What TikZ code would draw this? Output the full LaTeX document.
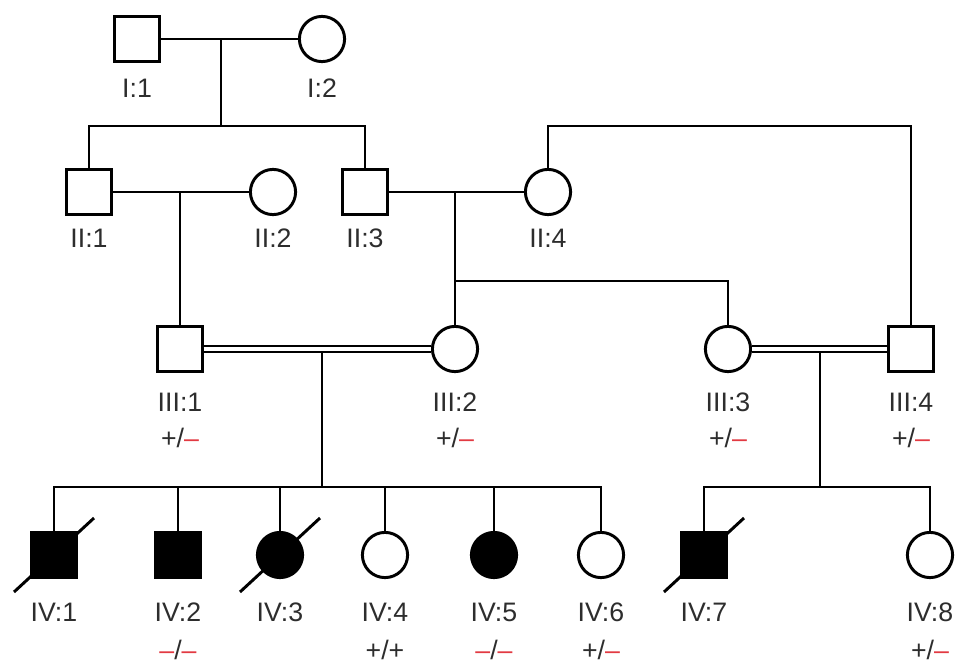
\documentclass[tikz,border=0pt]{standalone}
\usepackage{fontspec}
\setmainfont{Liberation Sans}
\definecolor{mutred}{RGB}{226,58,66}
\definecolor{lbl}{RGB}{45,45,45}
\newcommand{\mutall}{\textcolor{mutred}{--}}

\begin{document}
\begin{tikzpicture}[
    x=0.025cm, y=-0.025cm,
    bond/.style={draw=black, line width=2.1pt},
    cons/.style={draw=black, line width=1.6pt, double=white, double distance=2.2pt},
    M/.style={rectangle, draw=black, line width=2.1pt, fill=white, minimum size=1.11cm, inner sep=0pt},
    F/.style={circle, draw=black, line width=2.1pt, fill=white, minimum size=1.13cm, inner sep=0pt},
    Ma/.style={M, fill=black},
    Fa/.style={F, fill=black},
    tag/.style={font=\fontsize{19}{21}\selectfont, text=lbl},
  ]
  \useasboundingbox (0,0) rectangle (969,671);

  %% ---------------- generation I ----------------
  \node[M] (I1) at (137,39) {};
  \node[F] (I2) at (322,39) {};
  \node[tag] at (137,88) {I:1};
  \node[tag] at (322,88) {I:2};

  %% ---------------- generation II ----------------
  \node[M] (II1) at (89,192) {};
  \node[F] (II2) at (273,192) {};
  \node[M] (II3) at (365,192) {};
  \node[F] (II4) at (548,192) {};
  \node[tag] at (89,238) {II:1};
  \node[tag] at (273,238) {II:2};
  \node[tag] at (365,238) {II:3};
  \node[tag] at (548,238) {II:4};

  %% ---------------- generation III ----------------
  \node[M] (III1) at (180,349) {};
  \node[F] (III2) at (455,349) {};
  \node[F] (III3) at (728,349) {};
  \node[M] (III4) at (911,349) {};
  \foreach \p/\n in {III1/1, III2/2, III3/3, III4/4} {
    \node[tag] at ([yshift=-1.33cm]\p) {III:\n};
    \node[tag] at ([yshift=-2.23cm]\p) {+/\mutall};
  }

  %% ---------------- generation IV ----------------
  \foreach \x/\n/\s in {54/1/Ma, 178/2/Ma, 280/3/Fa, 385/4/F, 494/5/Fa, 601/6/F, 704/7/Ma, 930/8/F} {
    \node[\s] (IV\n) at (\x,555) {};
    \node[tag] at (\x,612) {IV:\n};
  }
  \node[tag] at (178,650) {\mutall/\mutall};
  \node[tag] at (385,650) {+/+};
  \node[tag] at (494,650) {\mutall/\mutall};
  \node[tag] at (601,650) {+/\mutall};
  \node[tag] at (930,650) {+/\mutall};

  %% deceased
  \foreach \p in {IV1, IV3, IV7} {
    \draw[bond] (\p) ++(-40,37) -- ++(80,-74);
  }

  %% ---------------- lines of descent ----------------
  \coordinate (mI) at (221,38);
  \coordinate (sI) at (221,126);
  \draw[bond] (I1) -- (I2);
  \draw[bond] (mI) -- (sI);
  \draw[bond] (II1.north) |- (sI) -| (II3.north);

  \coordinate (mII1) at (III1 |- II1);
  \draw[bond] (II1) -- (II2);
  \draw[bond] (mII1) -- (III1.north);

  \coordinate (mII2) at (III2 |- II3);
  \coordinate (sII2) at (455,281);
  \draw[bond] (II3) -- (II4);
  \draw[bond] (mII2) -- (III2.north);
  \draw[bond] (sII2) -| (III3.north);

  \coordinate (top) at (III4.north |- sI);
  \draw[bond] (II4.north) |- (top) -- (III4.north);

  \coordinate (mIII1) at (322,349);
  \coordinate (sIV1) at (322,487);
  \draw[bond] (mIII1) -- (sIV1);
  \draw[cons] (III1.east) -- (III2.west);
  \draw[bond] (IV1.north) |- (sIV1) -| (IV6.north);
  \foreach \p in {IV2, IV3, IV4, IV5} {
    \draw[bond] (\p.north) -- (\p.north |- sIV1);
  }

  \coordinate (mIII2) at (820,349);
  \coordinate (sIV2) at (820,487);
  \draw[bond] (mIII2) -- (sIV2);
  \draw[cons] (III3.east) -- (III4.west);
  \draw[bond] (IV7.north) |- (sIV2) -| (IV8.north);

\end{tikzpicture}
\end{document}
